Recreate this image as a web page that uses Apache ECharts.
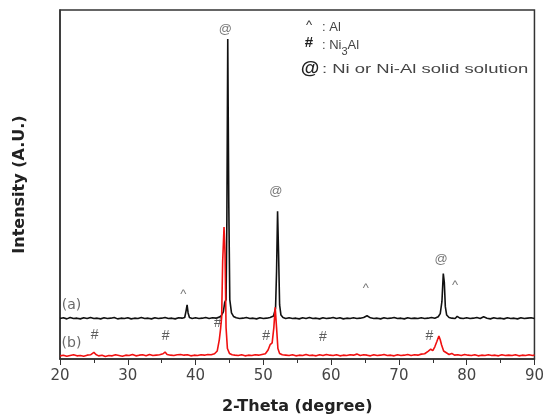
<!DOCTYPE html>
<html>
<head>
<meta charset="utf-8">
<script src="https://cdn.jsdelivr.net/npm/echarts@6/dist/echarts.min.js"></script>
<style>
  html, body { margin: 0; padding: 0; background: #fff; }
  #chart { width: 547px; height: 420px; }
</style>
</head>
<body>
<div id="chart"></div>
<script>
// sample (a): 2-theta and intensity
const thetaA = [
  20, 20.5, 21, 21.5, 22, 22.5, 23, 23.5, 24, 24.5, 25, 25.5, 26, 26.5, 27, 27.5, 28, 28.5, 29, 29.5,
  30, 30.5, 31, 31.5, 32, 32.5, 33, 33.5, 34, 34.5, 35, 35.5, 36, 36.5, 37, 37.5, 38, 38.4, 38.6, 38.75,
  38.9, 39.1, 39.5, 40, 40.5, 41, 41.5, 42, 42.5, 43, 43.5, 43.8, 44.1, 44.3, 44.5, 44.62, 44.75, 44.9, 45.05, 45.3,
  45.6, 46, 46.5, 47, 47.5, 48, 48.5, 49, 49.5, 50, 50.5, 51, 51.5, 51.8, 51.95, 52.1, 52.25, 52.4, 52.6, 52.9,
  53.3, 53.8, 54.3, 54.8, 55.3, 55.8, 56.3, 56.8, 57.3, 57.8, 58.3, 58.8, 59.3, 59.8, 60.3, 60.8, 61.3, 61.8, 62.3, 62.8,
  63.3, 63.8, 64.3, 64.8, 65.3, 65.8, 66.3, 66.8, 67.3, 67.8, 68.3, 68.8, 69.3, 69.8, 70.3, 70.8, 71.3, 71.8, 72.3, 72.8,
  73.3, 73.8, 74.3, 74.8, 75.3, 75.8, 76.1, 76.35, 76.55, 76.7, 76.85, 77.05, 77.4, 77.8, 78.3, 78.6, 79, 79.5, 80, 80.5,
  81, 81.5, 82, 82.5, 83, 83.5, 84, 84.5, 85, 85.5, 86, 86.5, 87, 87.5, 88, 88.5, 89, 89.5, 90
]
const intensityA = [
  11.6, 11.8, 11.5, 11.9, 11.6, 11.7, 11.5, 11.8, 11.6, 11.9, 11.6, 11.7, 11.5, 11.8, 11.6, 11.7, 11.9, 11.5, 11.7, 11.6,
  11.8, 11.5, 11.7, 11.6, 11.9, 11.6, 11.7, 11.5, 11.8, 11.6, 11.7, 11.9, 11.6, 11.7, 11.5, 11.8, 11.7, 11.9, 13.8, 15.5,
  13.2, 11.9, 11.6, 11.8, 11.6, 11.7, 11.9, 11.6, 11.8, 11.7, 12.0, 12.4, 13.5, 16.2, 17.0, 40.0, 91.7, 45.0, 17.0, 13.2,
  12.2, 11.8, 11.6, 11.7, 11.9, 11.6, 11.7, 11.5, 11.8, 11.6, 11.7, 11.9, 12.3, 14.5, 25.0, 42.3, 30.0, 15.5, 12.6, 11.9,
  11.6, 11.8, 11.6, 11.7, 11.5, 11.8, 11.6, 11.9, 11.6, 11.7, 11.5, 11.8, 11.6, 11.7, 11.9, 11.6, 11.8, 11.5, 11.7, 11.6,
  11.8, 11.6, 11.7, 11.9, 12.4, 11.8, 11.6, 11.7, 11.5, 11.8, 11.6, 11.7, 11.9, 11.6, 11.7, 11.5, 11.8, 11.6, 11.7, 11.6,
  11.8, 11.6, 11.7, 11.9, 11.7, 12.1, 13.0, 16.5, 24.5, 22.0, 15.0, 12.6, 11.9, 11.7, 11.6, 12.2, 11.7, 11.6, 11.8, 11.6,
  11.7, 11.9, 11.6, 12.1, 11.7, 11.5, 11.8, 11.6, 11.7, 11.5, 11.8, 11.6, 11.7, 11.5, 11.8, 11.6, 11.7, 11.8, 11.6
]

// sample (b)
const thetaB = [
  20, 20.5, 21, 21.5, 22, 22.5, 23, 23.5, 24, 24.5, 25, 25.3, 25.7, 26.2, 26.7, 27.2, 27.7, 28.2, 28.7, 29.2,
  29.7, 30.2, 30.7, 31.2, 31.7, 32.2, 32.7, 33.2, 33.7, 34.2, 34.7, 35.2, 35.5, 35.8, 36.3, 36.8, 37.3, 37.8, 38.3, 38.8,
  39.3, 39.8, 40.3, 40.8, 41.3, 41.8, 42.3, 42.8, 43.2, 43.5, 43.7, 43.85, 44, 44.2, 44.35, 44.5, 44.7, 45, 45.4, 45.8,
  46.3, 46.8, 47.3, 47.8, 48.3, 48.8, 49.3, 49.8, 50.3, 50.7, 51, 51.3, 51.55, 51.75, 51.95, 52.15, 52.4, 52.8, 53.3, 53.8,
  54.3, 54.8, 55.3, 55.8, 56.3, 56.8, 57.3, 57.8, 58.3, 58.8, 59.3, 59.8, 60.3, 60.8, 61.3, 61.8, 62.3, 62.8, 63.3, 63.8,
  64.3, 64.8, 65.3, 65.8, 66.3, 66.8, 67.3, 67.8, 68.3, 68.8, 69.3, 69.8, 70.3, 70.8, 71.3, 71.8, 72.3, 72.8, 73.3, 73.8,
  74.3, 74.7, 75, 75.3, 75.6, 75.9, 76.1, 76.3, 76.6, 77, 77.4, 77.8, 78.2, 78.7, 79.2, 79.7, 80.2, 80.7, 81.2, 81.7,
  82.2, 82.7, 83.2, 83.7, 84.2, 84.7, 85.2, 85.7, 86.2, 86.7, 87.2, 87.7, 88.2, 88.7, 89.2, 89.7, 90
]
const intensityB = [
  0.9, 1.1, 0.8, 1.0, 1.2, 0.9, 1.0, 0.8, 1.1, 1.2, 1.9, 1.3, 0.9, 1.1, 0.7, 1.0, 0.9, 1.2, 1.0, 0.8,
  1.1, 1.0, 1.3, 0.9, 1.1, 1.2, 0.9, 1.3, 1.0, 1.1, 1.2, 1.5, 2.0, 1.3, 1.1, 1.0, 1.2, 1.3, 1.1, 1.2,
  0.9, 1.1, 1.0, 1.2, 1.1, 1.3, 1.2, 1.5, 2.3, 5.5, 8.8, 12.0, 28.0, 37.8, 30.0, 9.0, 3.0, 1.6, 1.2, 1.1,
  1.0, 1.2, 0.9, 1.1, 1.0, 1.2, 1.1, 1.3, 1.5, 2.6, 4.1, 4.6, 9.0, 14.8, 9.0, 3.0, 1.6, 1.2, 1.1, 1.0,
  1.2, 0.9, 1.1, 1.0, 1.3, 1.0, 1.1, 0.9, 1.2, 1.0, 1.3, 1.1, 1.0, 1.2, 0.9, 1.1, 1.0, 1.2, 1.1, 1.4,
  1.0, 1.2, 1.1, 0.9, 1.2, 1.0, 1.1, 1.3, 1.0, 1.1, 0.9, 1.2, 1.0, 1.1, 1.3, 1.0, 1.2, 1.1, 1.4, 1.5,
  2.2, 2.8, 2.4, 3.5, 5.0, 6.6, 5.5, 4.0, 2.3, 1.8, 1.3, 1.6, 1.1, 1.2, 1.0, 1.3, 1.1, 1.0, 1.2, 0.9,
  1.1, 1.0, 1.2, 1.0, 1.1, 0.9, 1.2, 1.0, 1.1, 1.0, 1.2, 0.9, 1.1, 1.0, 1.2, 1.0, 1.1
]

// peak marks: symbol, 2-theta, height
const markChars = ['@', '@', '@', '^', '^', '^', '#', '#', '#', '#', '#', '#']
const markTheta = [44.4, 51.85, 76.23, 38.2, 65.1, 78.3, 25.1, 35.6, 43.3, 50.4, 58.8, 74.5]
const markHeight = [94.5, 47.9, 28.5, 18.5, 20.2, 21.1, 6.8, 6.6, 10.3, 6.6, 6.3, 6.6]

// sample labels
const sampleNames = ['(a)', '(b)']
const sampleTheta = [21.7, 21.7]
const sampleHeight = [15.4, 4.6]

const xTicks = [20, 90, 10]

const zip = (xs, ys) => xs.map((x, i) => [x, ys[i]])

const chart = echarts.init(document.getElementById('chart'))
chart.setOption({
  animation: false,
  grid: {
    left: 60, right: 6, top: 10, bottom: 59,
    show: true, borderColor: '#333', borderWidth: 1.5
  },
  xAxis: {
    type: 'value',
    min: xTicks[0], max: xTicks[1], interval: xTicks[2],
    name: '2-Theta (degree)',
    nameLocation: 'middle',
    nameGap: 40,
    nameTextStyle: { fontFamily: 'DejaVu Sans', fontWeight: 'bold', fontSize: 16, color: '#222' },
    axisLine: { lineStyle: { color: '#333', width: 1.5 } },
    axisTick: { length: 6, lineStyle: { color: '#333' } },
    minorTick: { show: true, splitNumber: 2, length: 4, lineStyle: { color: '#333' } },
    axisLabel: { margin: 10, fontFamily: 'DejaVu Sans', fontSize: 15, color: '#444' },
    splitLine: { show: false }
  },
  yAxis: {
    type: 'value',
    min: 0, max: 100,
    name: 'Intensity (A.U.)',
    nameLocation: 'middle',
    nameGap: 32,
    nameTextStyle: { fontFamily: 'DejaVu Sans', fontWeight: 'bold', fontSize: 16, color: '#222' },
    axisLine: { show: true, lineStyle: { color: '#333', width: 1.5 } },
    axisTick: { show: false },
    axisLabel: { show: false },
    splitLine: { show: false }
  },
  // marker key, top right
  graphic: [
    { type: 'text', x: 309, y: 25.5, style: { text: '^', font: '13px "Liberation Sans"', fill: '#333', align: 'center', verticalAlign: 'middle' } },
    { type: 'text', x: 322, y: 27, style: { text: ': Al', font: '13px "Liberation Sans"', fill: '#444', verticalAlign: 'middle' } },
    { type: 'text', x: 309, y: 43, style: { text: '#', font: 'bold 15px "Liberation Sans"', fill: '#222', align: 'center', verticalAlign: 'middle' } },
    { type: 'text', x: 322, y: 45, style: { text: ': Ni', font: '13px "Liberation Sans"', fill: '#444', verticalAlign: 'middle' } },
    { type: 'text', x: 341.5, y: 51.5, style: { text: '3', font: '11px "Liberation Sans"', fill: '#444', verticalAlign: 'middle' } },
    { type: 'text', x: 347.5, y: 45, style: { text: 'Al', font: '13px "Liberation Sans"', fill: '#444', verticalAlign: 'middle' } },
    { type: 'text', x: 310, y: 69, style: { text: '@', font: 'bold 19px "Liberation Sans"', fill: '#222', align: 'center', verticalAlign: 'middle' } },
    { type: 'text', x: 322, y: 69, scaleX: 1.42, style: { text: ': Ni or Ni-Al solid solution', font: '13px "Liberation Sans"', fill: '#444', verticalAlign: 'middle' } }
  ],
  series: [
    {
      type: 'line',
      data: zip(thetaA, intensityA),
      showSymbol: false,
      silent: true,
      lineStyle: { color: '#111', width: 1.6 }
    },
    {
      type: 'line',
      data: zip(thetaB, intensityB),
      showSymbol: false,
      silent: true,
      lineStyle: { color: '#f01010', width: 1.6 }
    },
    {
      type: 'scatter',
      symbolSize: 0,
      silent: true,
      data: markChars.map((c, i) => ({
        name: c,
        value: [markTheta[i], markHeight[i]],
        label: c === '#' ? { color: '#333', fontSize: 14 } : undefined
      })),
      label: {
        show: true,
        position: 'inside',
        formatter: (p) => p.name,
        fontFamily: 'Liberation Sans',
        fontSize: 13,
        color: '#555'
      }
    },
    {
      type: 'scatter',
      symbolSize: 0,
      silent: true,
      data: sampleNames.map((c, i) => ({ name: c, value: [sampleTheta[i], sampleHeight[i]] })),
      label: {
        show: true,
        position: 'inside',
        formatter: (p) => p.name,
        fontFamily: 'DejaVu Sans',
        fontSize: 14,
        color: '#444'
      }
    }
  ]
})
</script>
</body>
</html>
